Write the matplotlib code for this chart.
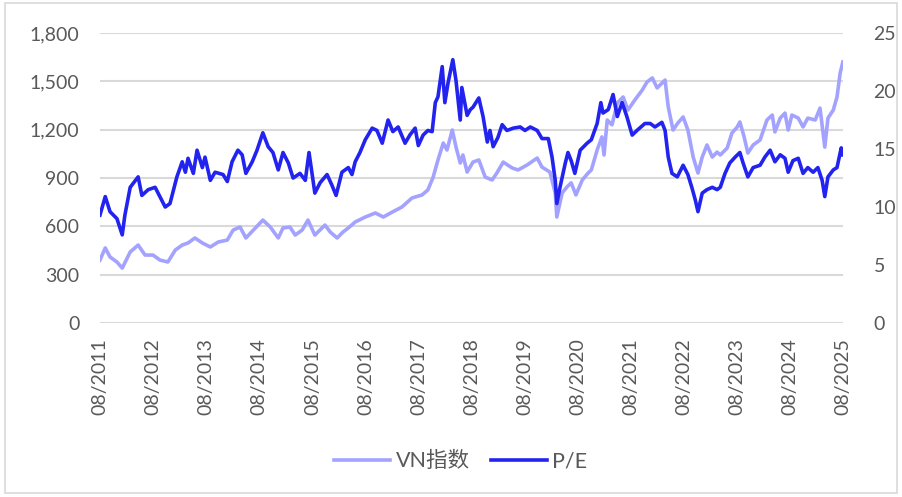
import matplotlib
matplotlib.use("Agg")
import matplotlib.pyplot as plt
from matplotlib.patches import Rectangle

plt.rcParams['font.family'] = ['Lato', 'Noto Sans CJK SC', 'DejaVu Sans']

# VN index (left axis), time as decimal year
vn_t = [2011.58, 2011.68, 2011.77, 2011.90, 2012.00, 2012.15, 2012.30, 2012.43, 2012.58, 2012.71,
        2012.86, 2013.00, 2013.13, 2013.24, 2013.37, 2013.51, 2013.66, 2013.81, 2013.90, 2013.98,
        2014.09, 2014.22, 2014.33, 2014.47, 2014.65, 2014.79, 2014.94, 2015.03, 2015.16, 2015.26,
        2015.39, 2015.50, 2015.63, 2015.82, 2015.92, 2016.05, 2016.16, 2016.26, 2016.39, 2016.58,
        2016.77, 2016.92, 2017.09, 2017.27, 2017.46, 2017.65, 2017.76, 2017.86, 2017.95, 2018.05,
        2018.12, 2018.22, 2018.29, 2018.37, 2018.42, 2018.50, 2018.61, 2018.72, 2018.84, 2018.97,
        2019.06, 2019.18, 2019.35, 2019.46, 2019.63, 2019.82, 2019.91, 2020.06, 2020.16, 2020.19,
        2020.29, 2020.38, 2020.46, 2020.55, 2020.67, 2020.78, 2020.84, 2020.95, 2021.04, 2021.08,
        2021.14, 2021.23, 2021.33, 2021.44, 2021.53, 2021.66, 2021.80, 2021.89, 2021.99, 2022.08,
        2022.23, 2022.29, 2022.38, 2022.47, 2022.57, 2022.66, 2022.76, 2022.85, 2022.93, 2023.02,
        2023.12, 2023.21, 2023.27, 2023.40, 2023.49, 2023.59, 2023.64, 2023.72, 2023.79, 2023.89,
        2024.02, 2024.15, 2024.25, 2024.30, 2024.40, 2024.49, 2024.55, 2024.62, 2024.74, 2024.83,
        2024.92, 2025.06, 2025.15, 2025.24, 2025.30, 2025.40, 2025.47, 2025.53, 2025.58]
vn_val = [391, 466, 410, 379, 341, 441, 484, 422, 422, 391,
          379, 453, 484, 497, 528, 497, 472, 503, 509, 515,
          577, 596, 528, 577, 639, 596, 528, 590, 596, 546,
          577, 639, 546, 608, 565, 528, 565, 590, 627, 658,
          683, 658, 689, 720, 776, 795, 826, 906, 1012, 1117,
          1074, 1198, 1092, 993, 1043, 937, 999, 1012, 906, 888,
          931, 999, 962, 950, 981, 1024, 968, 937, 807, 658,
          807, 844, 870, 795, 888, 931, 950, 1074, 1155, 1043,
          1260, 1230, 1366, 1403, 1322, 1384, 1446, 1496, 1521, 1459,
          1508, 1341, 1198, 1241, 1279, 1198, 1030, 931, 1030, 1105,
          1030, 1061, 1043, 1086, 1179, 1217, 1248, 1155, 1055, 1105,
          1136, 1260, 1291, 1186, 1272, 1303, 1198, 1291, 1272, 1217,
          1272, 1260, 1334, 1092, 1272, 1322, 1403, 1552, 1620]

# P/E (right axis)
pe_t = [2011.58, 2011.68, 2011.77, 2011.90, 2012.00, 2012.05, 2012.15, 2012.30, 2012.37, 2012.49,
        2012.62, 2012.71, 2012.81, 2012.90, 2013.03, 2013.13, 2013.19, 2013.24, 2013.34, 2013.41,
        2013.51, 2013.56, 2013.66, 2013.75, 2013.90, 2013.98, 2014.07, 2014.18, 2014.26, 2014.33,
        2014.45, 2014.54, 2014.65, 2014.75, 2014.84, 2014.94, 2015.03, 2015.13, 2015.22, 2015.35,
        2015.45, 2015.52, 2015.63, 2015.73, 2015.86, 2015.95, 2016.03, 2016.14, 2016.26, 2016.33,
        2016.39, 2016.48, 2016.58, 2016.71, 2016.80, 2016.90, 2017.01, 2017.10, 2017.20, 2017.33,
        2017.42, 2017.52, 2017.58, 2017.67, 2017.76, 2017.84, 2017.90, 2017.95, 2018.03, 2018.08,
        2018.14, 2018.23, 2018.29, 2018.37, 2018.40, 2018.50, 2018.56, 2018.61, 2018.72, 2018.80,
        2018.88, 2018.93, 2018.99, 2019.08, 2019.16, 2019.25, 2019.37, 2019.50, 2019.59, 2019.69,
        2019.82, 2019.91, 2020.03, 2020.10, 2020.16, 2020.19, 2020.25, 2020.35, 2020.40, 2020.46,
        2020.53, 2020.63, 2020.76, 2020.84, 2020.95, 2021.02, 2021.06, 2021.16, 2021.25, 2021.33,
        2021.42, 2021.51, 2021.61, 2021.70, 2021.85, 2021.95, 2022.04, 2022.17, 2022.23, 2022.29,
        2022.36, 2022.46, 2022.57, 2022.66, 2022.74, 2022.80, 2022.85, 2022.93, 2023.02, 2023.12,
        2023.21, 2023.27, 2023.36, 2023.45, 2023.55, 2023.64, 2023.70, 2023.79, 2023.89, 2024.02,
        2024.11, 2024.21, 2024.30, 2024.40, 2024.49, 2024.55, 2024.64, 2024.74, 2024.83, 2024.92,
        2025.02, 2025.11, 2025.19, 2025.24, 2025.30, 2025.40, 2025.47, 2025.55, 2025.58]
pe_val = [9.3, 10.9, 9.6, 9.0, 7.6, 9.3, 11.7, 12.6, 11.0, 11.5,
          11.7, 10.9, 10.0, 10.3, 12.6, 13.9, 13.0, 14.2, 12.9, 14.9,
          13.4, 14.3, 12.3, 13.0, 12.8, 12.2, 13.9, 14.9, 14.5, 12.9,
          13.9, 14.9, 16.4, 15.2, 14.7, 13.2, 14.7, 13.8, 12.5, 12.9,
          12.3, 14.7, 11.2, 12.1, 12.8, 11.9, 11.0, 13.0, 13.4, 12.8,
          13.9, 14.7, 15.8, 16.8, 16.6, 15.5, 17.5, 16.5, 16.9, 15.5,
          16.2, 16.8, 15.3, 16.2, 16.6, 16.5, 19.0, 19.5, 22.1, 19.0,
          20.7, 22.7, 20.9, 17.5, 20.3, 17.9, 18.4, 18.6, 19.4, 17.8,
          15.6, 16.6, 15.2, 16.0, 17.1, 16.6, 16.8, 16.9, 16.6, 16.9,
          16.6, 15.9, 15.9, 14.3, 12.3, 10.3, 11.7, 13.8, 14.7, 14.0,
          12.9, 14.9, 15.5, 15.8, 17.2, 19.0, 18.1, 18.4, 19.7, 17.8,
          19.0, 17.8, 16.2, 16.6, 17.2, 17.2, 16.9, 17.3, 16.6, 14.3,
          12.9, 12.6, 13.6, 12.8, 11.6, 10.6, 9.6, 11.2, 11.5, 11.7,
          11.5, 11.7, 12.9, 13.8, 14.3, 14.7, 13.8, 12.6, 13.4, 13.6,
          14.3, 14.9, 13.9, 14.5, 14.2, 13.0, 14.0, 14.2, 12.9, 13.4,
          13.0, 13.4, 12.3, 10.9, 12.6, 13.2, 13.4, 15.1, 14.5]

tick_years = list(range(2011, 2026))
tick_labels = ['08/%d' % y for y in tick_years]

light = '#A3A3FF'
dark = '#2323F0'
text_c = '#595959'
grid_c = '#D9D9D9'

fig = plt.figure(figsize=(9.02, 4.97), dpi=100)
ax = fig.add_axes([0.111, 0.350, 0.8236, 0.5836])
ax2 = ax.twinx()

l1, = ax.plot(vn_t, vn_val, color=light, lw=2.6, solid_joinstyle='round')
l2, = ax2.plot(pe_t, pe_val, color=dark, lw=2.6, solid_joinstyle='round')

ax.set_ylim(0, 1800)
ax.set_yticks(range(0, 1801, 300))
ax.set_yticklabels(['{:,}'.format(v) for v in range(0, 1801, 300)])
ax2.set_ylim(0, 25)
ax2.set_yticks(range(0, 26, 5))

ax.set_xlim(2011 + 7 / 12, 2025 + 7 / 12)
ax.set_xticks([y + 7 / 12 for y in tick_years])
ax.set_xticklabels(tick_labels, rotation=90)

ax.grid(axis='y', color=grid_c, lw=1.5)
ax.set_axisbelow(True)
for a in (ax, ax2):
    for s in a.spines.values():
        s.set_visible(False)
    a.tick_params(length=0, labelsize=14, colors=text_c)
ax.tick_params(axis='y', pad=15)
ax2.tick_params(axis='y', pad=22)
ax.tick_params(axis='x', pad=11)

fig.legend([l1, l2], ['VN指数', 'P/E'], loc='center', bbox_to_anchor=(0.511, 0.072),
           ncol=2, frameon=False, fontsize=15.5, labelcolor=text_c,
           handlelength=2.6, columnspacing=1.0, handletextpad=0.25)

fig.patches.append(Rectangle((0.006, 0.008), 0.988, 0.985, transform=fig.transFigure,
                             fill=False, edgecolor=grid_c, lw=1.2))

fig.savefig('out.png', dpi=100)
